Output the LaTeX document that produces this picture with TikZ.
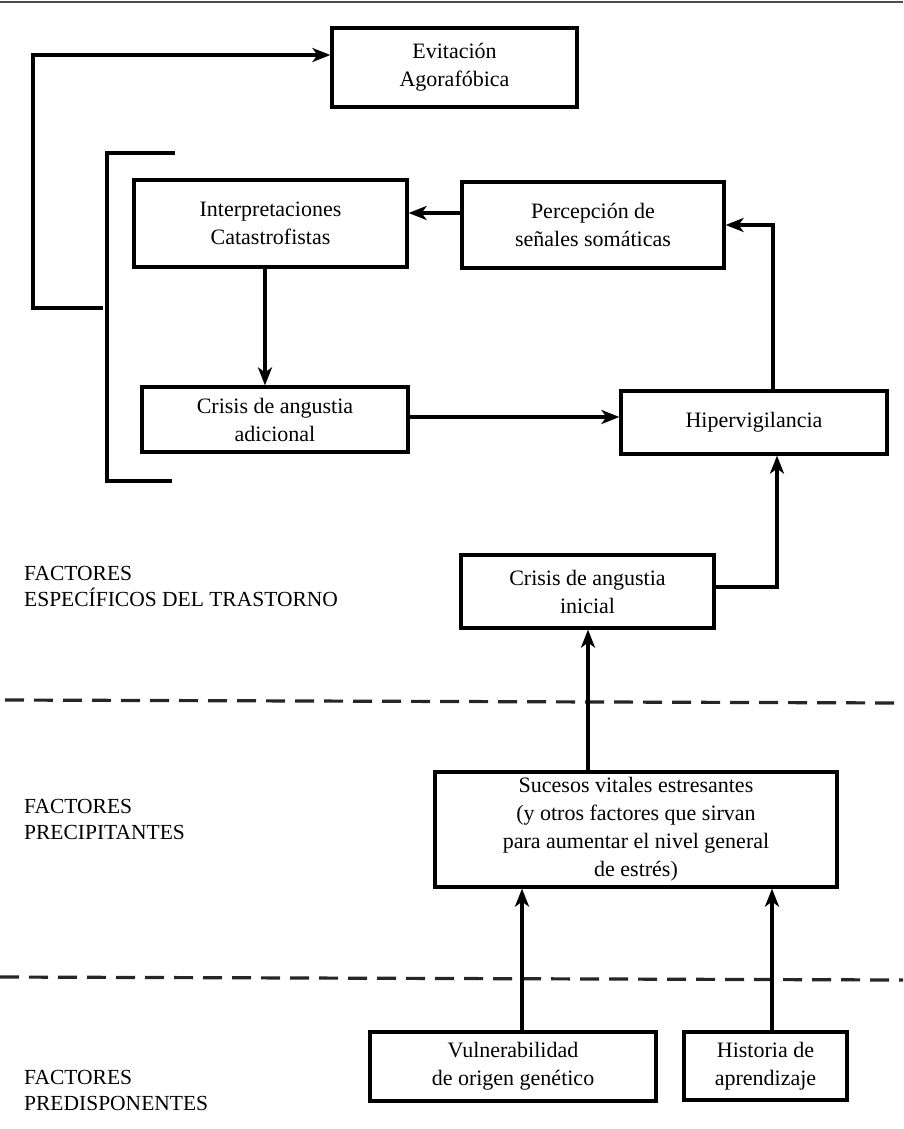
\documentclass[tikz,border=0pt]{standalone}
\usepackage{fontspec}
\setmainfont{Liberation Serif}
\usetikzlibrary{arrows.meta,calc}
\begin{document}
\begin{tikzpicture}[x=1pt,y=-1pt,
  box/.style={draw=black,line width=3.2pt,inner sep=0pt,align=center,
    font=\fontsize{22}{28}\selectfont,text=black},
  arr/.style={draw=black,line width=3.2pt,-{Stealth[length=18pt,width=14pt,inset=5pt]}},
  plain/.style={draw=black,line width=3.2pt},
  sep/.style={draw=black!85,line width=3.2pt,dash pattern=on 19pt off 10pt},
  lbl/.style={anchor=west,align=left,inner sep=0pt,
    font=\fontsize{21.5}{26}\selectfont,text=black}]
\useasboundingbox (0,0) rectangle (903,1129);
% top rule
\draw[black!70,line width=1.8pt] (0,2) -- (903,2);
% boxes
\node[box,minimum width=245pt,minimum height=79pt] (evit) at (454.5,67.5) {Evitación\\Agorafóbica};
\node[box,minimum width=273pt,minimum height=87pt] (interp) at (270.5,223.5) {Interpretaciones\\Catastrofistas};
\node[box,minimum width=262pt,minimum height=86pt] (percep) at (593,225) {Percepción de\\señales somáticas};
\node[box,minimum width=266pt,minimum height=65pt] (adic) at (275,419.5) {Crisis de angustia\\adicional};
\node[box,minimum width=266pt,minimum height=63pt] (hiper) at (754,422.5) {Hipervigilancia};
\node[box,minimum width=253pt,minimum height=73pt] (inicial) at (587.5,591.5) {Crisis de angustia\\inicial};
\node[box,minimum width=402pt,minimum height=115pt] (suc) at (636,829.5) {Sucesos vitales estresantes\\(y otros factores que sirvan\\para aumentar el nivel general\\de estrés)};
\node[box,minimum width=286pt,minimum height=69pt] (vuln) at (513,1066.5) {Vulnerabilidad\\de origen genético};
\node[box,minimum width=163pt,minimum height=68pt] (hist) at (765.5,1066) {Historia de\\aprendizaje};
% left labels
\node[lbl] (l1) at (24,586) {FACTORES\\ESPECÍFICOS DEL TRASTORNO};
\node[lbl] (l2) at (24,819.5) {FACTORES\\PRECIPITANTES};
\node[lbl] (l3) at (24,1090.5) {FACTORES\\PREDISPONENTES};
% separators
\draw[sep] (5,700) -- (903,703);
\draw[sep] (0,977) -- (903,980);
% bracket
\draw[plain] (175,153) -- (107,153) -- (107,481) -- (172,481);
% helper coordinates
\coordinate (b0) at (103,308);
\coordinate (lc) at (33,55);
\coordinate (y213) at (0,213);
\coordinate (x265) at (265,0);
\coordinate (y417) at (0,417);
\coordinate (x773) at (773,0);
\coordinate (y587) at (0,587);
\coordinate (x777) at (777,0);
\coordinate (x588) at (588,0);
\coordinate (x522) at (522,0);
\coordinate (x772) at (772,0);
% connectors
\draw[arr] (b0) -| (lc) -- (evit.west |- lc);
\draw[arr] (percep.west |- y213) -- (interp.east |- y213);
\draw[arr] (interp.south -| x265) -- (adic.north -| x265);
\draw[arr] (adic.east |- y417) -- (hiper.west |- y417);
\draw[arr] (hiper.north -| x773) |- (percep.east);
\draw[arr] (inicial.east |- y587) -| (hiper.south -| x777);
\draw[arr] (suc.north -| x588) -- (inicial.south -| x588);
\draw[arr] (vuln.north -| x522) -- (suc.south -| x522);
\draw[arr] (hist.north -| x772) -- (suc.south -| x772);
\end{tikzpicture}
\end{document}
